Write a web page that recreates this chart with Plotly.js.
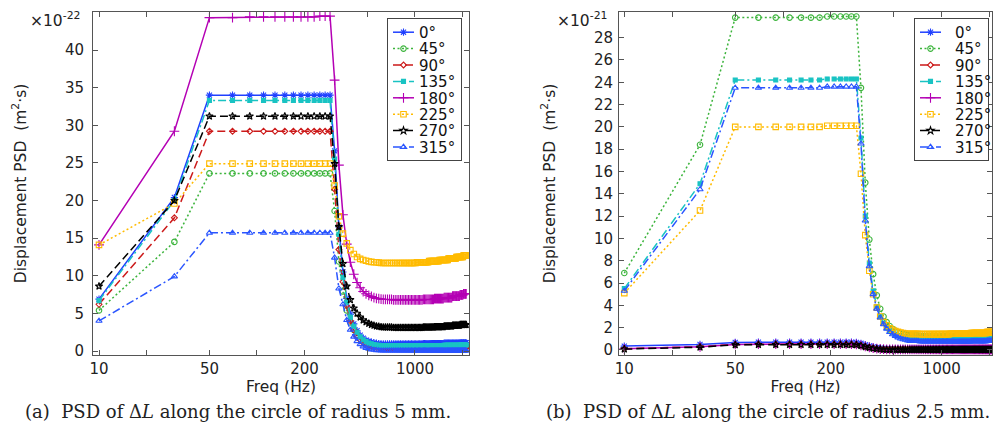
<!DOCTYPE html>
<html>
<head>
<meta charset="utf-8">
<script src="https://cdn.plot.ly/plotly-3.0.1.min.js"></script>
<style>html,body{margin:0;padding:0;background:#fff;}#chart{width:999px;height:430px;}</style>
</head>
<body>
<div id="chart"></div>
<script>
// ---------- data ----------
var FREQ = [
10,30,50,70,90,110,130,150,170,190,
210,230,250,270,290,310,330,350,370,390,
410,430,450,470,490,510,530,550,570,590,
610,630,650,670,690,710,730,750,770,790,
810,830,850,870,890,910,930,950,970,990,
1010,1030,1050,1070,1090,1110,1130,1150,1170,1190,
1210,1230,1250,1270,1290,1310,1330,1350,1370,1390,
1410,1430,1450,1470,1490,1510,1530,1550,1570,1590,
1610,1630,1650,1670,1690,1710,1730,1750,1770,1790,
1810,1830,1850,1870,1890,1910,1930,1950,1970,1990,
2010,2030,2050,2070,2090,2110];

var SERIES_NAMES = ['0°','45°','90°','135°','180°','225°','270°','315°'];

// (a) radius 5 mm, units of 1e-22 m^2 s
var A_0 = [
6.9,20.4,34.0,34.0,34.0,34.0,34.0,34.0,34.0,34.0,
34.0,34.0,34.0,34.0,34.0,26.6,16.5,10.5,7.0,4.9,
3.6,2.7,2.1,1.7,1.45,1.3,1.2,1.1,1.05,1.0,
.95,.95,.95,.95,.95,.95,.95,.95,.95,.95,
.95,.95,.95,.95,.95,.95,.95,.95,.95,.95,
.95,.95,.95,.95,.95,.95,1.0,1.0,1.0,1.0,
1.0,1.0,1.0,1.0,1.0,1.0,1.0,1.0,1.0,1.0,
1.0,1.0,1.0,1.0,1.0,1.0,1.05,1.05,1.05,1.05,
1.05,1.05,1.05,1.05,1.05,1.05,1.05,1.05,1.05,1.05,
1.05,1.05,1.05,1.05,1.05,1.05,1.1,1.1,1.1,1.1,
1.1,1.1,1.1,1.1,1.1,1.1];
var A_45 = [
5.4,14.5,23.6,23.6,23.6,23.6,23.6,23.6,23.6,23.6,
23.6,23.6,23.6,23.6,23.6,18.6,11.9,7.9,5.4,3.8,
2.8,2.1,1.6,1.3,1.05,.9,.8,.7,.65,.6,
.55,.55,.55,.55,.55,.55,.55,.55,.55,.55,
.55,.55,.55,.55,.55,.55,.55,.55,.55,.55,
.55,.55,.55,.55,.55,.55,.55,.55,.55,.55,
.55,.55,.55,.55,.55,.55,.55,.55,.55,.55,
.55,.55,.55,.55,.55,.55,.6,.6,.6,.6,
.6,.6,.6,.6,.6,.6,.6,.6,.6,.6,
.6,.6,.6,.6,.6,.6,.6,.6,.6,.6,
.6,.6,.6,.6,.6,.6];
var A_90 = [
6.2,17.7,29.2,29.2,29.2,29.2,29.2,29.2,29.2,29.2,
29.2,29.2,29.2,29.2,29.2,21.5,13.5,9.2,6.0,4.0,
2.8,2.0,1.5,1.1,.9,.75,.6,.5,.45,.4,
.35,.35,.35,.35,.35,.35,.35,.35,.35,.35,
.35,.35,.35,.35,.35,.35,.35,.35,.35,.35,
.35,.35,.35,.35,.35,.35,.35,.35,.35,.35,
.35,.35,.35,.35,.35,.35,.35,.35,.35,.35,
.35,.35,.35,.35,.35,.35,.4,.4,.4,.4,
.4,.4,.4,.4,.4,.4,.4,.4,.4,.4,
.4,.4,.4,.4,.4,.4,.4,.4,.4,.4,
.4,.4,.4,.4,.4,.4];
var A_135 = [
6.7,20.0,33.3,33.3,33.3,33.3,33.3,33.3,33.3,33.3,
33.3,33.3,33.3,33.3,33.3,25.5,15.5,9.8,6.5,4.5,
3.3,2.5,1.9,1.5,1.25,1.05,.95,.85,.8,.75,
.7,.7,.7,.7,.7,.7,.7,.7,.7,.7,
.7,.7,.7,.7,.7,.7,.7,.7,.7,.7,
.7,.7,.7,.7,.7,.7,.7,.7,.7,.7,
.7,.7,.7,.7,.7,.7,.7,.7,.7,.7,
.7,.7,.7,.7,.7,.7,.75,.75,.75,.75,
.75,.75,.75,.75,.75,.75,.75,.75,.75,.75,
.75,.75,.75,.75,.75,.75,.8,.8,.8,.8,
.8,.8,.8,.8,.8,.8];
var A_180 = [
14.1,29.2,44.3,44.3,44.4,44.4,44.4,44.4,44.4,44.4,
44.4,44.4,44.5,44.5,44.5,36.0,24.7,18.1,14.2,11.8,
10.2,9.1,8.4,7.9,7.6,7.4,7.25,7.1,7.0,6.95,
6.9,6.85,6.85,6.85,6.85,6.85,6.8,6.8,6.8,6.8,
6.8,6.8,6.8,6.8,6.8,6.8,6.8,6.8,6.8,6.8,
6.8,6.8,6.8,6.8,6.8,6.8,6.85,6.85,6.85,6.85,
6.85,6.85,6.85,6.85,6.85,6.85,6.95,6.95,6.95,6.95,
6.95,6.95,6.95,6.95,6.95,6.95,7.1,7.1,7.1,7.1,
7.1,7.1,7.1,7.1,7.1,7.1,7.3,7.3,7.3,7.3,
7.3,7.3,7.3,7.3,7.3,7.3,7.45,7.45,7.45,7.45,
7.45,7.6,7.6,7.6,7.6,7.6];
var A_225 = [
14.1,19.6,24.9,24.9,24.9,24.9,24.9,24.9,24.9,24.9,
24.9,24.9,24.9,24.9,24.9,22.0,17.9,15.6,14.3,13.4,
12.9,12.5,12.25,12.1,12.0,11.9,11.85,11.8,11.8,11.75,
11.7,11.7,11.7,11.7,11.7,11.7,11.7,11.7,11.7,11.7,
11.7,11.7,11.7,11.7,11.7,11.7,11.7,11.7,11.7,11.7,
11.7,11.8,11.8,11.8,11.8,11.8,11.8,11.8,11.8,11.8,
11.8,11.95,11.95,11.95,11.95,11.95,11.95,11.95,11.95,11.95,
11.95,12.1,12.1,12.1,12.1,12.1,12.1,12.1,12.1,12.1,
12.1,12.3,12.3,12.3,12.3,12.3,12.3,12.3,12.3,12.3,
12.3,12.5,12.5,12.5,12.5,12.5,12.5,12.5,12.5,12.5,
12.5,12.7,12.7,12.7,12.7,12.7];
var A_270 = [
8.6,20.0,31.2,31.2,31.2,31.2,31.2,31.2,31.2,31.2,
31.2,31.2,31.2,31.2,31.2,24.9,16.5,11.6,8.6,6.8,
5.7,5.0,4.5,4.1,3.85,3.65,3.5,3.4,3.3,3.25,
3.2,3.15,3.15,3.15,3.15,3.15,3.1,3.1,3.1,3.1,
3.1,3.1,3.1,3.1,3.1,3.1,3.1,3.1,3.1,3.1,
3.1,3.1,3.1,3.1,3.1,3.1,3.15,3.15,3.15,3.15,
3.15,3.15,3.15,3.15,3.15,3.15,3.2,3.2,3.2,3.2,
3.2,3.2,3.2,3.2,3.2,3.2,3.3,3.3,3.3,3.3,
3.3,3.3,3.3,3.3,3.3,3.3,3.4,3.4,3.4,3.4,
3.4,3.4,3.4,3.4,3.4,3.4,3.5,3.5,3.5,3.5,
3.5,3.5,3.5,3.5,3.5,3.5];
var A_315 = [
4.0,9.9,15.7,15.7,15.7,15.7,15.7,15.7,15.7,15.7,
15.7,15.7,15.7,15.7,15.7,12.4,8.3,6.2,4.1,2.8,
1.9,1.3,.9,.6,.4,.3,.2,.15,.1,.08,
.05,.05,.05,.05,.05,.05,.05,.05,.05,.05,
.05,.05,.05,.05,.05,.05,.05,.05,.05,.05,
.05,.05,.05,.05,.05,.05,.05,.05,.05,.05,
.05,.05,.05,.05,.05,.05,.05,.05,.05,.05,
.05,.05,.05,.05,.05,.05,.05,.05,.05,.05,
.05,.05,.05,.05,.05,.05,.05,.05,.05,.05,
.05,.05,.05,.05,.05,.05,.05,.05,.05,.05,
.05,.05,.05,.05,.05,.05];

// (b) radius 2.5 mm, units of 1e-21 m^2 s
var B_0 = [
.35,.5,.68,.7,.7,.7,.7,.7,.7,.7,
.7,.7,.7,.7,.68,.6,.48,.36,.27,.2,
.16,.13,.11,.1,.1,.1,.1,.1,.1,.1,
.1,.1,.1,.1,.1,.1,.1,.1,.1,.1,
.1,.1,.1,.1,.1,.1,.1,.1,.1,.1,
.1,.1,.1,.1,.1,.1,.1,.1,.1,.1,
.1,.1,.1,.1,.1,.1,.1,.1,.1,.1,
.1,.1,.1,.1,.1,.1,.12,.12,.12,.12,
.12,.12,.12,.12,.12,.12,.12,.12,.12,.12,
.12,.12,.12,.12,.12,.12,.12,.12,.12,.12,
.12,.12,.12,.12,.12,.12];
var B_45 = [
6.9,18.4,29.8,29.8,29.8,29.8,29.8,29.8,29.8,29.9,
29.9,29.9,29.9,29.9,29.9,23.5,15.0,9.9,6.8,4.9,
3.7,3.0,2.5,2.15,1.9,1.75,1.6,1.5,1.45,1.4,
1.35,1.3,1.3,1.3,1.3,1.3,1.25,1.25,1.25,1.25,
1.25,1.25,1.25,1.25,1.25,1.25,1.25,1.25,1.25,1.25,
1.25,1.25,1.25,1.25,1.25,1.25,1.25,1.25,1.25,1.25,
1.25,1.25,1.25,1.25,1.25,1.25,1.25,1.25,1.25,1.25,
1.25,1.25,1.25,1.25,1.25,1.25,1.3,1.3,1.3,1.3,
1.3,1.3,1.3,1.3,1.3,1.3,1.3,1.3,1.3,1.3,
1.3,1.3,1.3,1.3,1.3,1.3,1.35,1.35,1.35,1.35,
1.35,1.35,1.35,1.35,1.35,1.35];
var B_90 = [
.12,.3,.5,.52,.52,.52,.52,.52,.52,.52,
.52,.52,.52,.52,.5,.42,.32,.24,.17,.12,
.09,.07,.06,.06,.06,.06,.06,.06,.06,.06,
.06,.06,.06,.06,.06,.06,.06,.06,.06,.06,
.06,.06,.06,.06,.06,.06,.06,.06,.06,.06,
.06,.06,.06,.06,.06,.06,.06,.06,.06,.06,
.06,.06,.06,.06,.06,.06,.06,.06,.06,.06,
.06,.06,.06,.06,.06,.06,.06,.06,.06,.06,
.06,.06,.06,.06,.06,.06,.06,.06,.06,.06,
.06,.06,.06,.06,.06,.06,.06,.06,.06,.06,
.06,.06,.06,.06,.06,.06];
var B_135 = [
5.5,14.9,24.2,24.2,24.2,24.2,24.2,24.2,24.2,24.3,
24.3,24.3,24.3,24.3,24.3,19.0,12.0,7.8,5.3,3.9,
3.0,2.4,2.0,1.75,1.55,1.4,1.3,1.22,1.16,1.12,
1.08,1.05,1.05,1.05,1.05,1.05,1.0,1.0,1.0,1.0,
1.0,1.0,1.0,1.0,1.0,1.0,1.0,1.0,1.0,1.0,
1.0,1.0,1.0,1.0,1.0,1.0,1.0,1.0,1.0,1.0,
1.0,1.0,1.0,1.0,1.0,1.0,1.0,1.0,1.0,1.0,
1.0,1.0,1.0,1.0,1.0,1.0,1.05,1.05,1.05,1.05,
1.05,1.05,1.05,1.05,1.05,1.05,1.05,1.05,1.05,1.05,
1.05,1.05,1.05,1.05,1.05,1.05,1.1,1.1,1.1,1.1,
1.1,1.1,1.1,1.1,1.1,1.1];
var B_180 = [
.1,.28,.5,.53,.53,.53,.53,.53,.53,.53,
.53,.53,.53,.53,.5,.42,.32,.24,.17,.12,
.09,.07,.05,.05,.05,.05,.05,.05,.05,.05,
.05,.05,.05,.05,.05,.05,.05,.05,.05,.05,
.05,.05,.05,.05,.05,.05,.05,.05,.05,.05,
.05,.05,.05,.05,.05,.05,.05,.05,.05,.05,
.05,.05,.05,.05,.05,.05,.05,.05,.05,.05,
.05,.05,.05,.05,.05,.05,.05,.05,.05,.05,
.05,.05,.05,.05,.05,.05,.05,.05,.05,.05,
.05,.05,.05,.05,.05,.05,.05,.05,.05,.05,
.05,.05,.05,.05,.05,.05];
var B_225 = [
5.1,12.5,20.0,20.0,20.0,20.0,20.0,20.0,20.0,20.1,
20.1,20.1,20.1,20.1,20.1,15.8,10.3,7.1,5.0,3.8,
3.0,2.5,2.2,1.95,1.8,1.7,1.62,1.56,1.52,1.48,
1.46,1.44,1.44,1.44,1.44,1.44,1.42,1.42,1.42,1.42,
1.42,1.42,1.42,1.42,1.42,1.42,1.42,1.42,1.42,1.42,
1.42,1.42,1.42,1.42,1.42,1.42,1.45,1.45,1.45,1.45,
1.45,1.45,1.45,1.45,1.45,1.45,1.45,1.45,1.45,1.45,
1.45,1.45,1.45,1.45,1.45,1.45,1.52,1.52,1.52,1.52,
1.52,1.52,1.52,1.52,1.52,1.52,1.52,1.52,1.52,1.52,
1.52,1.52,1.52,1.52,1.52,1.52,1.6,1.6,1.6,1.6,
1.6,1.6,1.6,1.6,1.6,1.6];
var B_270 = [
.08,.25,.46,.48,.48,.48,.48,.48,.48,.48,
.48,.48,.48,.48,.46,.38,.28,.2,.14,.1,
.07,.05,.03,.03,.03,.03,.03,.03,.03,.03,
.03,.03,.03,.03,.03,.03,.03,.03,.03,.03,
.03,.03,.03,.03,.03,.03,.03,.03,.03,.03,
.03,.03,.03,.03,.03,.03,.03,.03,.03,.03,
.03,.03,.03,.03,.03,.03,.03,.03,.03,.03,
.03,.03,.03,.03,.03,.03,.03,.03,.03,.03,
.03,.03,.03,.03,.03,.03,.03,.03,.03,.03,
.03,.03,.03,.03,.03,.03,.03,.03,.03,.03,
.03,.03,.03,.03,.03,.03];
var B_315 = [
5.3,14.4,23.5,23.5,23.5,23.5,23.5,23.5,23.5,23.6,
23.6,23.6,23.6,23.6,23.6,18.5,11.6,7.5,5.0,3.7,
2.9,2.3,1.9,1.6,1.4,1.25,1.12,1.02,.95,.9,
.85,.8,.8,.8,.8,.8,.75,.75,.75,.75,
.75,.75,.75,.75,.75,.75,.75,.75,.75,.75,
.75,.75,.75,.75,.75,.75,.75,.75,.75,.75,
.75,.75,.75,.75,.75,.75,.75,.75,.75,.75,
.75,.75,.75,.75,.75,.75,.78,.78,.78,.78,
.78,.78,.78,.78,.78,.78,.78,.78,.78,.78,
.78,.78,.78,.78,.78,.78,.82,.82,.82,.82,
.82,.82,.82,.82,.82,.82];

var X_TICKS = [10,50,200,1000];
var X_TICK_LABELS = ['10','50','200','1000'];
var X_MINOR_TICKS = [20,100,500,2000];
var Y_TICKS_A = [0,5,10,15,20,25,30,35,40];
var Y_TICKS_B = [0,2,4,6,8,10,12,14,16,18,20,22,24,26,28];

// ---------- styles ----------
var STYLES = [
  {color:'#2040ff', dash:'solid',          symbol:'asterisk-open',   size:6},
  {color:'#3cb43c', dash:'2px,2.5px',      symbol:'circle-open',     size:5.5},
  {color:'#cc1a1a', dash:'8px,4px',        symbol:'diamond-open',    size:4.5},
  {color:'#19c3c3', dash:'8px,3px,2px,3px',symbol:'square',          size:4},
  {color:'#b400b4', dash:'solid',          symbol:'cross-thin-open', size:7},
  {color:'#ffbb00', dash:'2px,2.5px',      symbol:'square-open',     size:5.5},
  {color:'#000000', dash:'8px,4px',        symbol:'star-open',       size:5.5},
  {color:'#2a55ff', dash:'8px,3px,2px,3px',symbol:'triangle-up-open',size:5.5}
];
var FONT = 'DejaVu Sans, sans-serif';
var SERIF = 'DejaVu Serif, serif';
var A_DATA = [A_0,A_45,A_90,A_135,A_180,A_225,A_270,A_315];
var B_DATA = [B_0,B_45,B_90,B_135,B_180,B_225,B_270,B_315];

var traces = [];
function addTraces(dataList, xa, ya, legendId){
  dataList.forEach(function(vals, i){
    var s = STYLES[i];
    traces.push({
      type:'scatter', mode:'lines+markers', name:SERIES_NAMES[i],
      x:FREQ, y:vals, xaxis:xa, yaxis:ya, legend:legendId,
      line:{color:s.color, width:1.5, dash:s.dash},
      marker:{symbol:s.symbol, size:s.size, color:s.color, line:{color:s.color, width:1.1}},
      hoverinfo:'x+y+name'
    });
  });
}
addTraces(A_DATA,'x','y','legend');
addTraces(B_DATA,'x2','y2','legend2');

function P(px){return px/999;}
function Q(py){return 1-py/430;}

var axBase = {
  type:'log', showgrid:false, zeroline:false, showline:true, linecolor:'#555', linewidth:1,
  mirror:'ticks', ticks:'inside', ticklen:5, tickcolor:'#555', tickwidth:1,
  tickfont:{family:FONT, size:15, color:'#222'}
};
function clone(o, extra){var r=JSON.parse(JSON.stringify(o)); for(var k in extra) r[k]=extra[k]; return r;}

var yBase = clone(axBase, {type:'linear'});
var xTitle = {text:'Freq (Hz)', font:{family:FONT, size:15.5, color:'#222'}, standoff:0};
var yTitleText = 'Displacement PSD&nbsp; (m<sup>2</sup>·s)';
var xMinor = {tickmode:'array', tickvals:X_MINOR_TICKS, ticks:'inside', ticklen:5, tickcolor:'#555', tickwidth:1, showgrid:false};

var layout = {
  width:999, height:430,
  margin:{l:0, r:0, t:0, b:0},
  paper_bgcolor:'#fff', plot_bgcolor:'#fff',
  showlegend:true,
  xaxis: clone(axBase, {domain:[P(93),P(469)], range:[0.962,3.342], anchor:'y',
    tickmode:'array', tickvals:X_TICKS, ticktext:X_TICK_LABELS, ticklabelstandoff:0, minor:xMinor, title:xTitle}),
  yaxis: clone(yBase, {domain:[Q(355),Q(12)], range:[-0.53,45.05], anchor:'x',
    tickmode:'array', tickvals:Y_TICKS_A, ticktext:Y_TICKS_A.map(String), ticklabelstandoff:5,
    title:{text:yTitleText, font:{family:FONT, size:15.5, color:'#222'}, standoff:34}}),
  xaxis2: clone(axBase, {domain:[P(619),P(992)], range:[0.9666,3.317], anchor:'y2',
    tickmode:'array', tickvals:X_TICKS, ticktext:X_TICK_LABELS, ticklabelstandoff:0, minor:xMinor, title:xTitle}),
  yaxis2: clone(yBase, {domain:[Q(355),Q(12)], range:[-0.45,30.3], anchor:'x2',
    tickmode:'array', tickvals:Y_TICKS_B, ticktext:Y_TICKS_B.map(String), ticklabelstandoff:2,
    title:{text:yTitleText, font:{family:FONT, size:15.5, color:'#222'}, standoff:34}}),
  legend:{x:P(462), y:Q(18), xanchor:'right', yanchor:'top', bgcolor:'#fff', bordercolor:'#444',
    borderwidth:1, font:{family:FONT, size:15, color:'#111'}, itemwidth:30, tracegroupgap:0},
  legend2:{x:P(989), y:Q(18), xanchor:'right', yanchor:'top', bgcolor:'#fff', bordercolor:'#444',
    borderwidth:1, font:{family:FONT, size:15, color:'#111'}, itemwidth:30, tracegroupgap:0},
  annotations:[
    {xref:'paper', yref:'paper', x:P(28), y:Q(19), xanchor:'left', yanchor:'middle', showarrow:false,
     text:'×10<sup>-22</sup>', font:{family:FONT, size:15.5, color:'#222'}},
    {xref:'paper', yref:'paper', x:P(555), y:Q(19), xanchor:'left', yanchor:'middle', showarrow:false,
     text:'×10<sup>-21</sup>', font:{family:FONT, size:15.5, color:'#222'}},
    {xref:'paper', yref:'paper', x:P(23), y:Q(411), xanchor:'left', yanchor:'middle', showarrow:false,
     text:'(a)&nbsp;&nbsp;PSD of Δ<i>L</i> along the circle of radius 5 mm.', font:{family:SERIF, size:18, color:'#222'}},
    {xref:'paper', yref:'paper', x:P(544), y:Q(411), xanchor:'left', yanchor:'middle', showarrow:false,
     text:'(b)&nbsp;&nbsp;PSD of Δ<i>L</i> along the circle of radius 2.5 mm.', font:{family:SERIF, size:18, color:'#222'}}
  ]
};

function compactLegend(id, rowH, lineW){
  var lg = document.querySelector('g.' + id);
  if(!lg) return;
  var items = Array.prototype.slice.call(lg.querySelectorAll('g.traces'));
  if(items.length < 2) return;
  var ys = items.map(function(it){ return it.getCTM().f; });
  var oldStep = ys[1] - ys[0];
  var dy = oldStep - rowH;
  var y0 = ys[0] - dy/2;
  var dx = 30 - lineW;
  items.forEach(function(it, i){
    var tr = it.getAttribute('transform') || '';
    var m = /translate\(\s*([-\d.e]+)[ ,]+([-\d.e]+)\s*\)/.exec(tr);
    var tx = m ? +m[1] : 0, ty = m ? +m[2] : 0;
    var shift = (y0 + i*rowH) - ys[i];
    it.setAttribute('transform', 'translate(' + tx + ',' + (ty + shift) + ')');
    it.querySelectorAll('g.legendlines path').forEach(function(p){ p.setAttribute('d', 'M5,0h' + lineW); });
    it.querySelectorAll('g.legendpoints path.scatterpts').forEach(function(p){
      p.setAttribute('transform', 'translate(' + (5 + lineW/2) + ',0)');
    });
    var t = it.querySelector('text.legendtext');
    if(t){
      var nx = (+t.getAttribute('x')) - dx;
      t.setAttribute('x', nx);
      t.querySelectorAll('tspan.line').forEach(function(s){ s.setAttribute('x', nx); });
    }
  });
  var bg = lg.querySelector('rect.bg');
  if(bg){
    bg.setAttribute('height', (+bg.getAttribute('height')) - items.length*dy);
    bg.setAttribute('width', (+bg.getAttribute('width')) - dx);
  }
  // keep the right edge where it was (legend anchored on its right side)
  var gt = lg.getAttribute('transform') || '';
  var gm = /translate\(\s*([-\d.e]+)[ ,]+([-\d.e]+)\s*\)/.exec(gt);
  if(gm) lg.setAttribute('transform', 'translate(' + (+gm[1] + dx) + ',' + gm[2] + ')');
}

Plotly.newPlot('chart', traces, layout, {displayModeBar:false, staticPlot:true}).then(function(){
  compactLegend('legend', 16.4, 21);
  compactLegend('legend2', 16.4, 21);
});
</script>
</body>
</html>
